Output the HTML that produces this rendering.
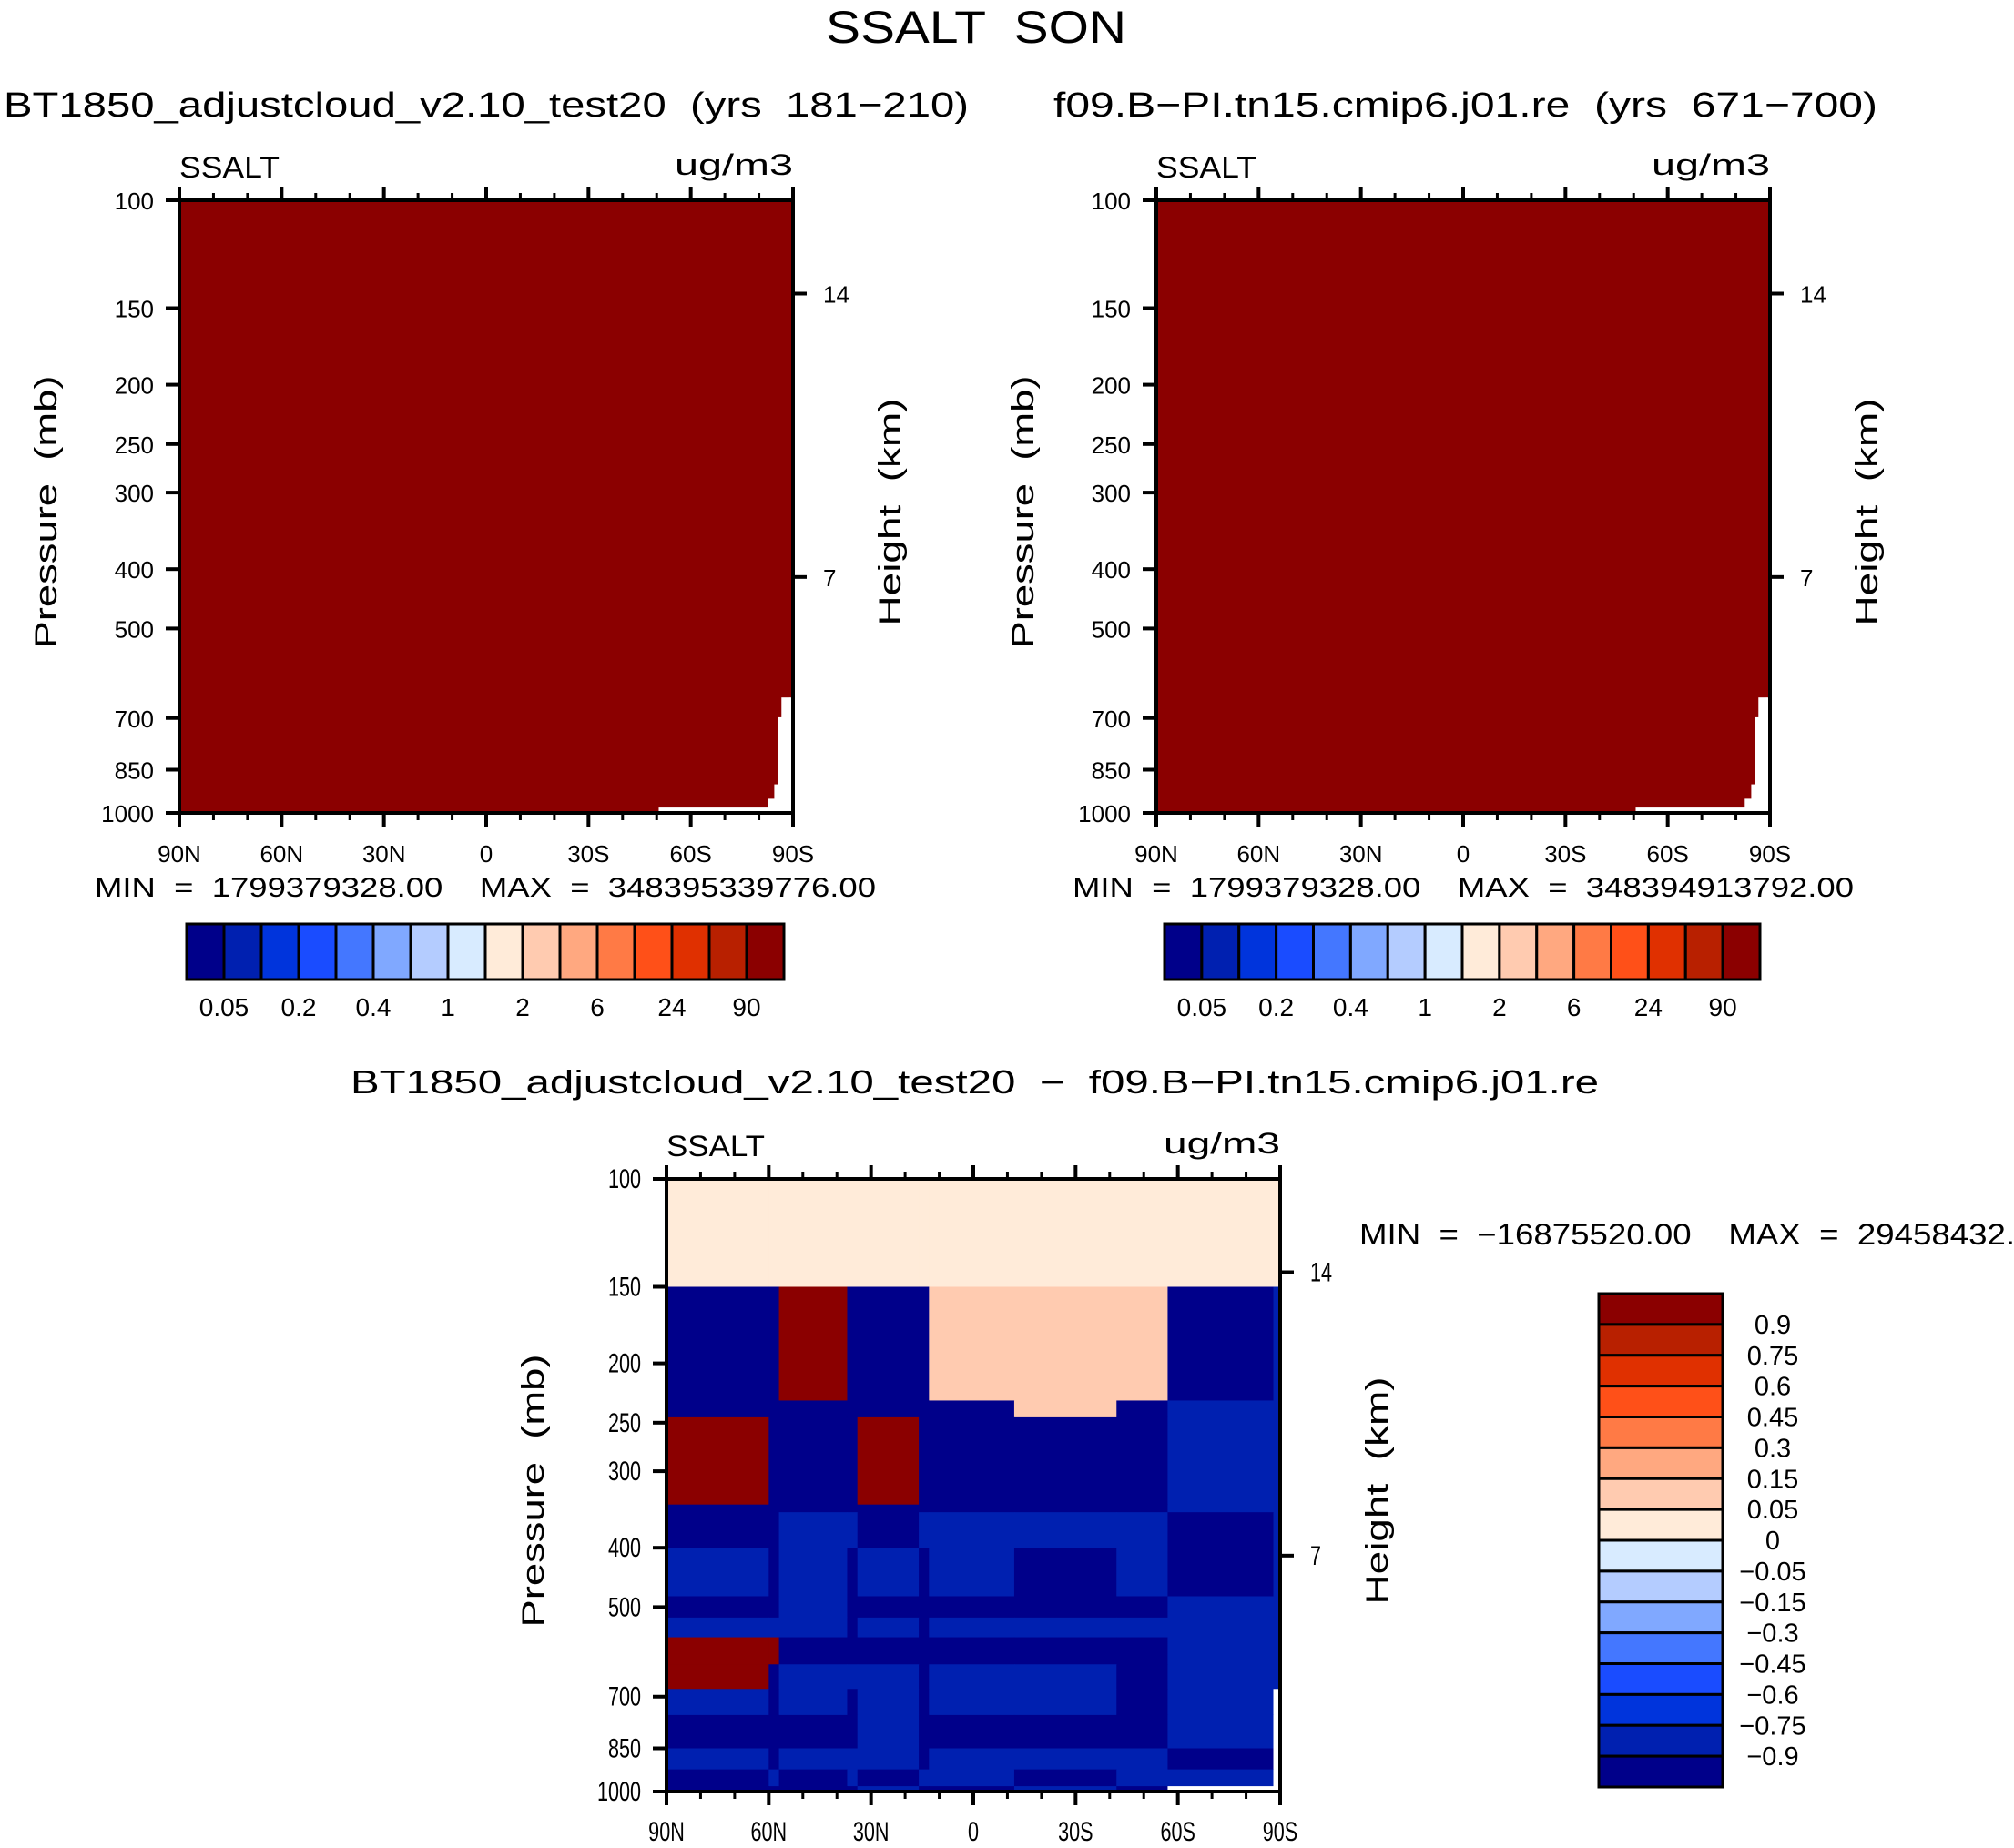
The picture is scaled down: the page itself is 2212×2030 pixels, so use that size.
<!DOCTYPE html>
<html><head><meta charset="utf-8"><style>
html,body{margin:0;padding:0;background:#fff;}
svg{display:block;font-family:"Liberation Sans",sans-serif;}
text{white-space:pre;}
</style></head><body>
<svg id="fig" width="2212" height="2030" viewBox="0 0 2212 2030" xmlns="http://www.w3.org/2000/svg">
<text x="1072" y="47" font-size="50" text-anchor="middle" textLength="330" lengthAdjust="spacingAndGlyphs">SSALT  SON</text>
<text x="4" y="128" font-size="38" textLength="1060" lengthAdjust="spacingAndGlyphs">BT1850_adjustcloud_v2.10_test20  (yrs  181−210)</text>
<text x="1157" y="128" font-size="38" textLength="905" lengthAdjust="spacingAndGlyphs">f09.B−PI.tn15.cmip6.j01.re  (yrs  671−700)</text>
<text x="385" y="1201" font-size="36" textLength="1371" lengthAdjust="spacingAndGlyphs">BT1850_adjustcloud_v2.10_test20  −  f09.B−PI.tn15.cmip6.j01.re</text>
<g id="layer"></g>
</svg>
<script>
// ---- data ----
const pressureTicks = [100,150,200,250,300,400,500,700,850,1000];
const pressureTickLabels = ["100","150","200","250","300","400","500","700","850","1000"];
const latTicks = [90,60,30,0,-30,-60,-90];
const latTickLabels = ["90N","60N","30N","0","30S","60S","90S"];
const heightTickPressures = [142,412];
const heightTickLabels = ["14","7"];
const missingLatEdges = [-50.6,-82.6,-84.5,-85.5,-86.6,-88.9,-90];
const missingTopP = [980,948,898,698,648,648];
const meanValue = 150;
const cb1Labels = ["0.05","0.2","0.4","1","2","6","24","90"];
const cb2Levels = [-0.9,-0.75,-0.6,-0.45,-0.3,-0.15,-0.05,0,0.05,0.15,0.3,0.45,0.6,0.75,0.9];
const cb2Labels = ["-0.9","-0.75","-0.6","-0.45","-0.3","-0.15","-0.05","0","0.05","0.15","0.3","0.45","0.6","0.75","0.9"];
const colors = ["#00008a","#0020b0","#0034dc","#1a4cff","#4477ff","#80a8ff","#b4ccff","#d8ebff","#ffebd9","#ffcbb0","#ffa880","#ff7a45","#ff5018","#e03000","#b82000","#8b0000"];
const diffLatEdges = [90,60,57,37,34,16,13,-12,-42,-57,-88,-90];
const diffPEdges = [100,150,230,245,340,350,400,480,520,560,620,680,750,850,920,980,1000];
const N = null;
const diffRows = [
 [0.02,0.02,0.02,0.02,0.02,0.02,0.02,0.02,0.02,0.02,0.02],
 [-1,-1,1,-1,-1,-1,0.1,0.1,0.1,-1,-0.8],
 [-1,-1,-1,-1,-1,-1,-1,0.1,-1,-0.8,-0.8],
 [1,-1,-1,-1,1,-1,-1,-1,-1,-0.8,-0.8],
 [-1,-1,-1,-1,-1,-1,-1,-1,-1,-0.8,-0.8],
 [-1,-1,-0.8,-0.8,-1,-0.8,-0.8,-0.8,-0.8,-1,-0.8],
 [-0.8,-1,-0.8,-1,-0.8,-1,-0.8,-1,-0.8,-1,-0.8],
 [-1,-1,-0.8,-1,-1,-1,-1,-1,-1,-0.8,-0.8],
 [-0.8,-0.8,-0.8,-1,-0.8,-1,-0.8,-0.8,-0.8,-0.8,-0.8],
 [1,1,-1,-1,-1,-1,-1,-1,-1,-0.8,-0.8],
 [1,-1,-0.8,-0.8,-0.8,-1,-0.8,-0.8,-1,-0.8,-0.8],
 [-0.8,-1,-0.8,-1,-0.8,-1,-0.8,-0.8,-1,-0.8,N],
 [-1,-1,-1,-1,-0.8,-1,-1,-1,-1,-0.8,N],
 [-0.8,-1,-0.8,-0.8,-0.8,-1,-0.8,-0.8,-0.8,-1,N],
 [-1,-0.8,-1,-0.8,-1,-0.8,-0.8,-1,-0.8,-0.8,N],
 [-1,-1,-1,-1,-0.8,-1,-1,-0.8,-1,N,N]
];
const cb1Thresh = [0.02,0.05,0.1,0.2,0.3,0.4,0.7,1,1.5,2,4,6,12,24,50,90];

// ---- helpers ----
const NS="http://www.w3.org/2000/svg";
const layer=document.getElementById('layer');
function mk(tag,attrs,parent){const e=document.createElementNS(NS,tag);for(const k in attrs)e.setAttribute(k,attrs[k]);(parent||layer).appendChild(e);return e;}
function colorDiff(v){let i=0;while(i<cb2Levels.length&&v>=cb2Levels[i])i++;return colors[i];}
function colorMean(v){let i=0;while(i<cb1Thresh.length-1&&v>=cb1Thresh[i+1])i++;return colors[i];}

function panel(name,x0,x1,y0,y1,drawField,condensed){
  const g=mk('g',{});
  
  
  const X=lat=>x0+(90-lat)/180*(x1-x0);
  const Y=p=>y0+Math.log10(p/100)*(y1-y0);
  drawField(g,X,Y);
  const tfs=condensed?30:26, sx=condensed?0.72:1;
  const fr=mk('rect',{x:x0,y:y0,width:x1-x0,height:y1-y0,fill:'none',stroke:'#000','stroke-width':4},g);
  
  
  for(let lat=90;lat>=-90;lat-=10){
    const maj=lat%30===0, L=maj?15:8, x=X(lat);
    mk('line',{x1:x,x2:x,y1:y0,y2:y0-L,stroke:'#000','stroke-width':maj?4:3},g);
    mk('line',{x1:x,x2:x,y1:y1,y2:y1+L,stroke:'#000','stroke-width':maj?4:3},g);
  }
  latTicks.forEach((lat,i)=>{
    const t=mk('text',{x:X(lat),y:y1+54,'font-size':tfs,'text-anchor':'middle'},g);
    if(condensed){t.setAttribute('transform',`translate(${X(lat)},0) scale(${sx},1) translate(${-X(lat)},0)`);}
    t.textContent=latTickLabels[i];
    
    
  });
  pressureTicks.forEach((p,i)=>{
    const y=Y(p);
    mk('line',{x1:x0,x2:x0-15,y1:y,y2:y,stroke:'#000','stroke-width':4},g);
    const t=mk('text',{x:x0-28,y:y+10,'font-size':tfs,'text-anchor':'end'},g);
    if(condensed){t.setAttribute('transform',`translate(${x0-28},0) scale(${sx},1) translate(${-(x0-28)},0)`);}
    t.textContent=pressureTickLabels[i];
    
    
  });
  heightTickPressures.forEach((p,i)=>{
    const y=Y(p);
    mk('line',{x1:x1,x2:x1+15,y1:y,y2:y,stroke:'#000','stroke-width':4},g);
    const t=mk('text',{x:x1+33,y:y+10,'font-size':tfs},g);
    if(condensed){t.setAttribute('transform',`translate(${x1+33},0) scale(${sx},1) translate(${-(x1+33)},0)`);}
    t.textContent=heightTickLabels[i];
    
    
  });
  const yc=(y0+y1)/2;
  const pl=mk('text',{x:0,y:0,'font-size':34,'text-anchor':'middle',transform:`translate(${x0-135},${yc+6}) rotate(-90)`,textLength:300,lengthAdjust:'spacingAndGlyphs'},g);
  pl.textContent='Pressure  (mb)';
  
  
  const hl=mk('text',{x:0,y:0,'font-size':34,'text-anchor':'middle',transform:`translate(${x1+118},${yc+6}) rotate(-90)`,textLength:250,lengthAdjust:'spacingAndGlyphs'},g);
  hl.textContent='Height  (km)';
  
  
  const sl=mk('text',{x:x0,y:y0-25,'font-size':32,textLength:condensed?108:110,lengthAdjust:'spacingAndGlyphs'},g);
  sl.textContent='SSALT';
  
  
  const ul=mk('text',{x:x1,y:y0-28,'font-size':32,'text-anchor':'end',textLength:condensed?128:130,lengthAdjust:'spacingAndGlyphs'},g);
  ul.textContent='ug/m3';
  
  
  return {X,Y};
}

function meanField(g,X,Y){
  const r=mk('rect',{x:X(90),y:Y(100),width:X(-90)-X(90),height:Y(1000)-Y(100),fill:colorMean(meanValue)},g);
  
  
  missingTopP.forEach((p,i)=>{
    const a=X(missingLatEdges[i]),b=X(missingLatEdges[i+1]);
    const m=mk('rect',{x:a,y:Y(p),width:b-a+0.5,height:Y(1000)-Y(p),fill:'#fff'},g);
    
    
  });
}
function diffField(g,X,Y){
  diffRows.forEach((row,r)=>{
    row.forEach((v,c)=>{
      const a=X(diffLatEdges[c]),b=X(diffLatEdges[c+1]);
      const t=Y(diffPEdges[r]),bt=Y(diffPEdges[r+1]);
      const cell=mk('rect',{x:a,y:t,width:b-a+0.6,height:bt-t+0.6,fill:v===null?'#fff':colorDiff(v)},g);
      
      
    });
  });
}

function hColorbar(name,x0,x1,y0,y1){
  const g=mk('g',{});
  
  
  const w=(x1-x0)/colors.length;
  colors.forEach((c,i)=>{
    const r=mk('rect',{x:x0+i*w,y:y0,width:w,height:y1-y0,fill:c,stroke:'#000','stroke-width':3},g);
    
    
  });
  cb1Labels.forEach((l,i)=>{
    const t=mk('text',{x:x0+(2*i+1)*w,y:y1+40,'font-size':28,'text-anchor':'middle'},g);
    t.textContent=l;
    
    
  });
}
function vColorbar(name,x0,x1,y0,y1){
  const g=mk('g',{});
  
  
  const h=(y1-y0)/colors.length;
  colors.slice().reverse().forEach((c,i)=>{
    const r=mk('rect',{x:x0,y:y0+i*h,width:x1-x0,height:h,fill:c,stroke:'#000','stroke-width':3},g);
    
    
  });
  cb2Labels.slice().reverse().forEach((l,i)=>{
    const t=mk('text',{x:1947,y:y0+(i+1)*h+10,'font-size':29,'text-anchor':'middle'},g);
    t.textContent=l.replace('-','−');
    
    
  });
}

panel('mean-panel-1',197,871,220,893,meanField,false);
panel('mean-panel-2',1270,1944,220,893,meanField,false);
panel('difference-panel',732,1406,1295,1968,diffField,true);
hColorbar('colorbar-1',205,861,1015,1076);
hColorbar('colorbar-2',1279,1933,1015,1076);
vColorbar('colorbar-diff',1756,1892,1421,1963);

function txt(name,x,y,s,fsz,len){
  const t=mk('text',{x:x,y:y,'font-size':fsz,textLength:len,lengthAdjust:'spacingAndGlyphs'});
  t.textContent=s;
  
  
}
txt('minmax-1',104,985,'MIN  =  1799379328.00    MAX  =  348395339776.00',30,858);
txt('minmax-2',1178,985,'MIN  =  1799379328.00    MAX  =  348394913792.00',30,858);
txt('minmax-diff',1493,1367,'MIN  =  −16875520.00    MAX  =  29458432.',32,720);
</script>
</body></html>
